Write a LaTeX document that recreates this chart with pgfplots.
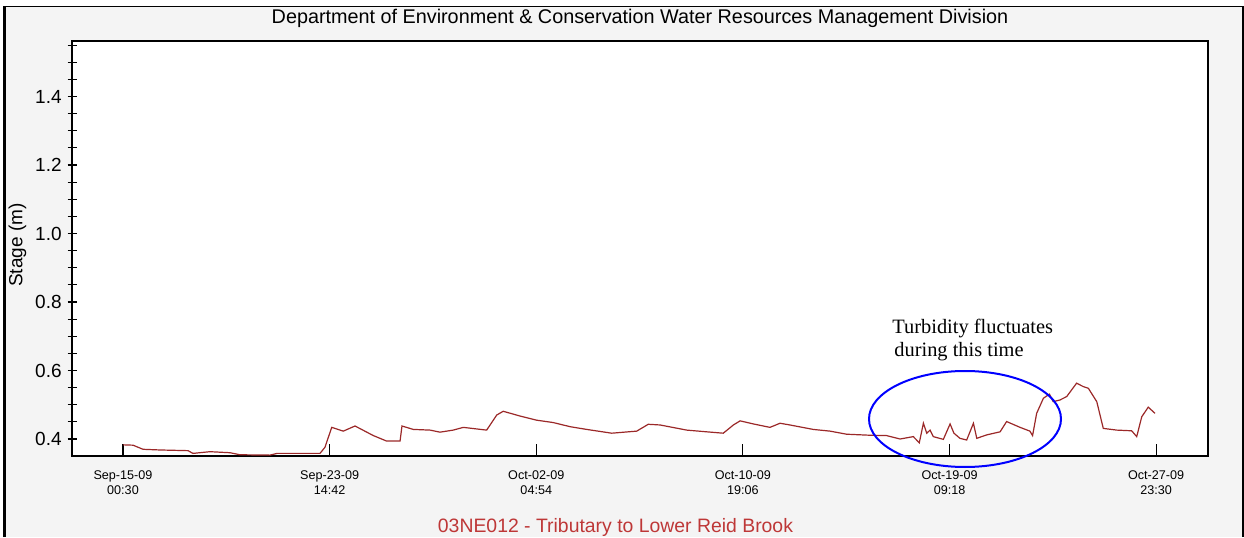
\documentclass[border=0pt]{standalone}
\usepackage{fontspec}
\setmainfont{Liberation Sans}
\newfontfamily\annfont{Liberation Serif}
\usepackage{pgfplots}
\pgfplotsset{compat=1.18}
\definecolor{bgray}{RGB}{244,244,244}
\definecolor{dataline}{RGB}{155,40,40}
\definecolor{subred}{RGB}{190,55,55}
\begin{document}
\begin{tikzpicture}
\useasboundingbox (0,0) rectangle (622pt,268.5pt);
\fill[white] (0,0) rectangle (622pt,268.5pt);
\fill[bgray] (2pt,0) rectangle (621pt,265.2pt);
\draw[black,line width=0.75pt] (1.5pt,265.2pt) -- (622pt,265.2pt);
\draw[black,line width=1.2pt] (2.2pt,0) -- (2.2pt,265.5pt);
\draw[black,line width=1pt] (621.5pt,0) -- (621.5pt,265.5pt);
\begin{axis}[
  at={(36pt,40.5pt)}, anchor=south west,
  scale only axis, width=568pt, height=207.5pt,
  xmin=-2.1206, xmax=45.114, ymin=0.3504, ymax=1.562,
  axis background/.style={fill=white},
  axis line style={black, line width=0.8pt},
  tick align=inside,
  xtick pos=bottom, ytick pos=left,
  xtick=\empty,
  extra x ticks={0,8.5917,17.1833,25.775,34.3667,42.9583},
  extra x tick labels={{Sep-15-09\\00:30},{Sep-23-09\\14:42},{Oct-02-09\\04:54},{Oct-10-09\\19:06},{Oct-19-09\\09:18},{Oct-27-09\\23:30}},
  extra x tick style={major tick length=6pt, tick style={black, line width=0.6pt},
    xticklabel style={align=center, inner sep=0pt, anchor=north, yshift=-7pt, font=\fontsize{6.3}{7.5}\selectfont}},
  ytick={0.4,0.6,0.8,1.0,1.2,1.4},
  minor ytick={0.45,0.5,0.55,0.65,0.7,0.75,0.85,0.9,0.95,1.05,1.1,1.15,1.25,1.3,1.35,1.45,1.5,1.55},
  yticklabel style={inner sep=0pt, anchor=east, xshift=-5pt, font=\fontsize{9.5}{11}\selectfont, /pgf/number format/fixed, /pgf/number format/fixed zerofill, /pgf/number format/precision=1},
  /pgf/number format/assume math mode=true,
  major tick length=4.5pt, minor tick length=4.5pt,
  y tick style={black, line width=0.6pt, xshift=-2.25pt},
]
\addplot[dataline, line width=0.6pt] table {
x y
0 0.383
0.416 0.382
0.832 0.370
1.538 0.368
2.703 0.366
2.911 0.358
3.617 0.363
4.449 0.360
4.865 0.354
6.112 0.353
6.403 0.358
8.191 0.358
8.399 0.376
8.678 0.434
9.160 0.423
9.647 0.438
10.41 0.410
10.96 0.394
11.52 0.394
11.60 0.438
12.07 0.428
12.77 0.426
13.18 0.420
13.73 0.426
14.15 0.434
15.12 0.426
15.54 0.470
15.81 0.481
16.51 0.467
17.20 0.455
17.89 0.448
18.59 0.436
19.28 0.428
20.32 0.417
21.36 0.423
21.84 0.443
22.33 0.441
23.44 0.426
24.27 0.421
24.96 0.417
25.38 0.441
25.66 0.453
26.21 0.444
26.90 0.434
27.32 0.446
27.73 0.441
28.70 0.428
29.40 0.423
30.09 0.414
31.06 0.411
31.75 0.410
32.31 0.400
32.86 0.407
33.11 0.389
33.28 0.446
33.42 0.417
33.56 0.426
33.69 0.407
34.11 0.399
34.39 0.444
34.55 0.417
34.80 0.402
35.08 0.397
35.36 0.446
35.50 0.402
35.91 0.412
36.47 0.421
36.74 0.451
37.30 0.434
37.71 0.423
37.82 0.410
37.99 0.475
38.27 0.519
38.52 0.531
38.68 0.509
38.96 0.514
39.24 0.524
39.65 0.563
39.93 0.553
40.14 0.548
40.49 0.509
40.76 0.431
41.32 0.426
41.94 0.424
42.15 0.407
42.36 0.465
42.63 0.493
42.91 0.475
};
\end{axis}
\node[font=\fontsize{9.9}{11}\selectfont, inner sep=0pt] at (320pt,259.5pt) {Department of Environment \& Conservation Water Resources Management Division};
\node[font=\fontsize{9.7}{11}\selectfont, text=subred, inner sep=0pt] at (307.75pt,5pt) {03NE012 - Tributary to Lower Reid Brook};
\node[font=\fontsize{9.5}{11}\selectfont, rotate=90, inner sep=0pt] at (8.75pt,146pt) {Stage (m)};
\node[font=\annfont\fontsize{10.2}{12}\selectfont, anchor=base west, inner sep=0pt] at (446pt,102pt) {Turbidity fluctuates};
\node[font=\annfont\fontsize{10.2}{12}\selectfont, anchor=base west, inner sep=0pt] at (447pt,90.5pt) {during this time};
\draw[blue, line width=1pt] (482.5pt,59pt) ellipse [x radius=48pt, y radius=24pt];
\end{tikzpicture}
\end{document}
